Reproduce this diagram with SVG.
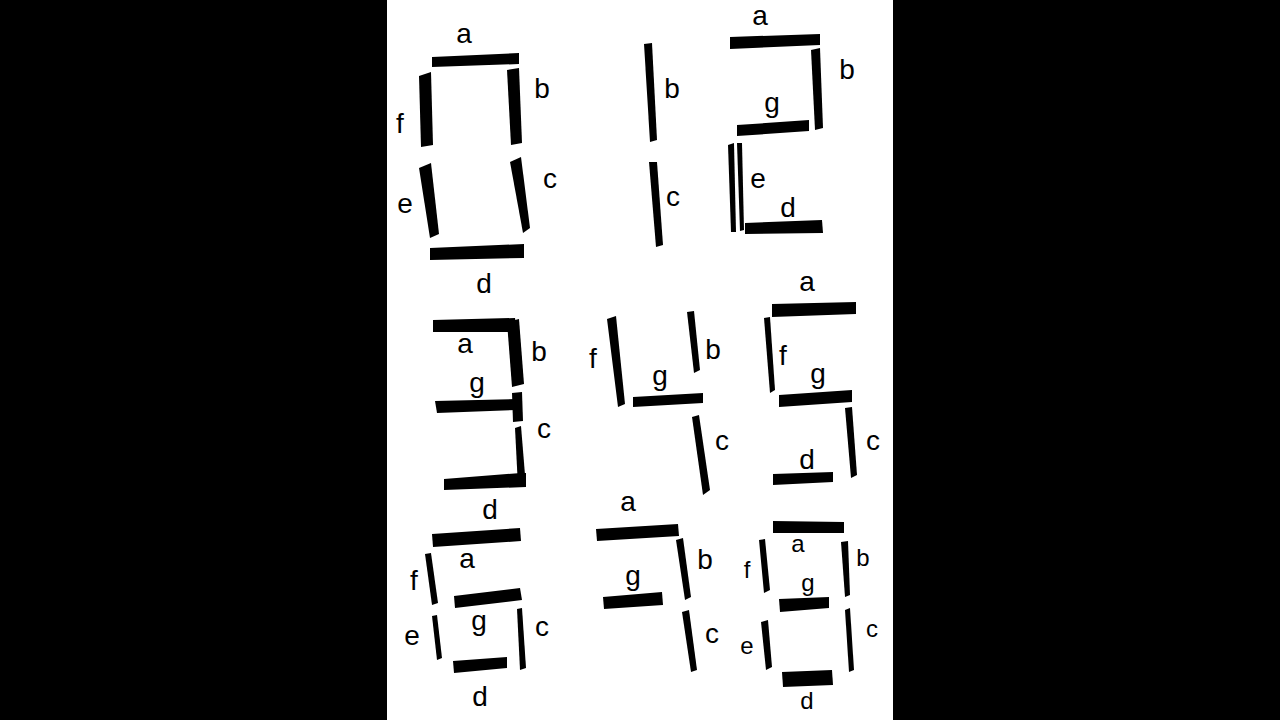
<svg xmlns="http://www.w3.org/2000/svg" width="1280" height="720" viewBox="0 0 1280 720">
<style>
.s{fill:#000}
.l{font-family:"Liberation Sans","DejaVu Sans",sans-serif;font-size:28px;fill:#000;text-anchor:middle}
.m{font-size:24px}
</style>
<rect x="0" y="0" width="1280" height="720" fill="#000"/>
<rect x="387" y="0" width="506" height="720" fill="#fff"/>

<g id="digit0">
<polygon class="s" points="432,57 519,53 519,64 432,67"/>
<polygon class="s" points="419,76 431,72 433,145 421,147"/>
<polygon class="s" points="507,70 519,68 522,143 511,145"/>
<polygon class="s" points="419,168 431,163 439,234 430,238"/>
<polygon class="s" points="510,162 521,157 530,228 523,233"/>
<polygon class="s" points="430,248 524,244 524,258 430,260"/>
<text class="l" x="464" y="43">a</text>
<text class="l" x="400" y="133">f</text>
<text class="l" x="542" y="98">b</text>
<text class="l" x="405" y="213">e</text>
<text class="l" x="550" y="188">c</text>
<text class="l" x="484" y="293">d</text>
</g>

<g id="digit1">
<polygon class="s" points="644,44 652,43 657,140 650,142"/>
<polygon class="s" points="649,162 657,162 663,245 656,247"/>
<text class="l" x="672" y="98">b</text>
<text class="l" x="673" y="206">c</text>
</g>

<g id="digit2">
<polygon class="s" points="730,37 820,34 820,45 730,49"/>
<polygon class="s" points="811,50 820,48 823,128 815,130"/>
<polygon class="s" points="737,125 809,120 809,131 737,136"/>
<polygon class="s" points="728,145 734,143 736,232 731,232"/>
<polygon class="s" points="737,143 742,143 744,230 740,231"/>
<polygon class="s" points="745,223 822,220 823,233 745,234"/>
<text class="l" x="760" y="25">a</text>
<text class="l" x="847" y="79">b</text>
<text class="l" x="772" y="112">g</text>
<text class="l" x="758" y="188">e</text>
<text class="l" x="788" y="217">d</text>
</g>

<g id="digit3">
<polygon class="s" points="433,320 515,318 517,332 433,332"/>
<polygon class="s" points="507,322 519,319 524,384 512,387"/>
<polygon class="s" points="435,401 517,399 517,410 437,413"/>
<polygon class="s" points="512,393 522,392 523,421 513,422"/>
<polygon class="s" points="515,428 521,426 526,487 518,487"/>
<polygon class="s" points="444,479 521,473 526,473 526,487 444,490"/>
<text class="l" x="465" y="353">a</text>
<text class="l" x="539" y="361">b</text>
<text class="l" x="477" y="392">g</text>
<text class="l" x="544" y="438">c</text>
<text class="l" x="490" y="519">d</text>
</g>

<g id="digit4">
<polygon class="s" points="607,319 616,316 625,404 618,407"/>
<polygon class="s" points="687,312 694,311 700,370 694,373"/>
<polygon class="s" points="633,397 703,393 703,403 633,407"/>
<polygon class="s" points="692,417 699,415 710,490 703,495"/>
<text class="l" x="593" y="368">f</text>
<text class="l" x="713" y="359">b</text>
<text class="l" x="660" y="385">g</text>
<text class="l" x="722" y="450">c</text>
</g>

<g id="digit5">
<polygon class="s" points="772,304 856,302 856,314 772,317"/>
<polygon class="s" points="764,318 770,317 775,390 770,393"/>
<polygon class="s" points="779,395 852,390 852,402 779,407"/>
<polygon class="s" points="845,408 852,407 857,475 851,478"/>
<polygon class="s" points="773,474 833,472 833,482 773,485"/>
<text class="l" x="807" y="291">a</text>
<text class="l" x="783" y="365">f</text>
<text class="l" x="818" y="383">g</text>
<text class="l" x="873" y="450">c</text>
<text class="l" x="807" y="469">d</text>
</g>

<g id="digit6">
<polygon class="s" points="432,534 520,528 521,541 433,547"/>
<polygon class="s" points="425,554 431,553 438,603 432,605"/>
<polygon class="s" points="454,596 520,588 522,600 455,608"/>
<polygon class="s" points="432,616 437,615 442,658 437,660"/>
<polygon class="s" points="517,609 522,608 526,668 520,670"/>
<polygon class="s" points="453,661 507,657 507,668 454,673"/>
<text class="l" x="467" y="568">a</text>
<text class="l" x="414" y="590">f</text>
<text class="l" x="479" y="630">g</text>
<text class="l" x="412" y="645">e</text>
<text class="l" x="542" y="636">c</text>
<text class="l" x="480" y="706">d</text>
</g>

<g id="digit7">
<polygon class="s" points="596,529 678,524 679,536 597,541"/>
<polygon class="s" points="676,540 683,538 691,597 685,600"/>
<polygon class="s" points="603,597 662,592 663,605 604,609"/>
<polygon class="s" points="682,612 689,610 697,670 691,672"/>
<text class="l" x="628" y="511">a</text>
<text class="l" x="705" y="569">b</text>
<text class="l" x="633" y="585">g</text>
<text class="l" x="712" y="643">c</text>
</g>

<g id="digit8">
<polygon class="s" points="773,521 844,522 844,533 773,533"/>
<polygon class="s" points="759,540 765,539 770,590 764,593"/>
<polygon class="s" points="841,542 848,541 850,595 845,597"/>
<polygon class="s" points="779,599 829,597 829,608 780,612"/>
<polygon class="s" points="761,622 768,620 772,667 766,670"/>
<polygon class="s" points="845,610 850,608 854,670 849,672"/>
<polygon class="s" points="782,672 832,670 833,685 783,687"/>
<text class="l m" x="798" y="552">a</text>
<text class="l m" x="747" y="578">f</text>
<text class="l m" x="863" y="566">b</text>
<text class="l m" x="808" y="591">g</text>
<text class="l m" x="747" y="654">e</text>
<text class="l m" x="872" y="637">c</text>
<text class="l m" x="807" y="709">d</text>
</g>
</svg>
